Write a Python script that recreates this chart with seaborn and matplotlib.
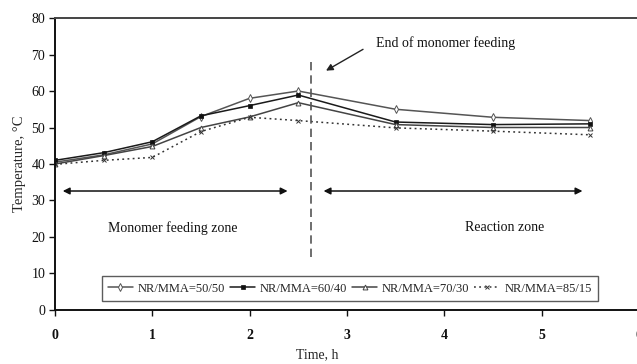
import matplotlib
matplotlib.use("Agg")
import matplotlib.pyplot as plt
import seaborn as sns
import pandas as pd

# Reactor temperature during NR/MMA graft polymerisation
time_h = [0, 0.5, 1, 1.5, 2, 2.5, 3.5, 4.5, 5.5]
temp_50_50 = [40.5, 42.5, 45.5, 53, 58, 60, 55, 52.8, 51.9]
temp_60_40 = [41, 43.1, 46.1, 53.2, 56, 58.9, 51.5, 50.8, 51]
temp_70_30 = [40, 42.3, 44.8, 50, 52.9, 56.8, 50.8, 50, 50]
temp_85_15 = [39.9, 41, 41.8, 48.9, 52.8, 51.9, 49.9, 49, 48]

series_labels = ["NR/MMA=50/50", "NR/MMA=60/40", "NR/MMA=70/30", "NR/MMA=85/15"]
x_ticks = [0, 1, 2, 3, 4, 5, 6]
y_ticks = [0, 10, 20, 30, 40, 50, 60, 70, 80]
feed_end = 2.63

sns.set_theme(style="white")
plt.rcParams["font.family"] = ["Liberation Serif", "DejaVu Serif"]

fig = plt.figure(figsize=(6.37, 3.64), dpi=100)
ax = fig.add_axes([0.0863, 0.1484, 0.9167, 0.8021])

styles = [
    dict(color="#555555", marker="d", ms=3.8, mfc="white", mec="#555555", mew=0.7, ls="-", lw=1.1),
    dict(color="#1a1a1a", marker="s", ms=3.0, mfc="#111111", mec="#111111", mew=0.5, ls="-", lw=1.1),
    dict(color="#444444", marker="^", ms=3.5, mfc="white", mec="#444444", mew=0.7, ls="-", lw=1.1),
    dict(color="#333333", marker="x", ms=3.0, mec="#333333", mew=0.7, ls=(0, (1.2, 2.2)), lw=1.1),
]
series = [temp_50_50, temp_60_40, temp_70_30, temp_85_15]

for vals, lab, st in zip(series, series_labels, styles):
    df = pd.DataFrame({"time": time_h, "temp": vals})
    sns.lineplot(data=df, x="time", y="temp", ax=ax, label=lab,
                 color=st["color"], linewidth=st["lw"], linestyle=st["ls"],
                 marker=st["marker"], markersize=st["ms"],
                 markerfacecolor=st.get("mfc", st["color"]),
                 markeredgecolor=st["mec"], markeredgewidth=st["mew"])

ax.set_xlim(0, 6)
ax.set_ylim(0, 80)
ax.set_xticks(x_ticks)
ax.set_yticks(y_ticks)

# end of feeding marker
ax.plot([feed_end, feed_end], [14.5, 68.5], color="#555555", lw=1.2,
        ls=(0, (5, 3)))
ax.annotate("", xy=(2.76, 65.2), xytext=(3.19, 71.8),
            arrowprops=dict(arrowstyle="-|>", color="#222222", lw=1.0,
                            mutation_scale=10))
ax.text(3.3, 73.2, "End of monomer feeding", fontsize=10, va="center",
        ha="left", color="#111111")

# zone arrows
arrow = dict(arrowstyle="<|-|>", color="#111111", lw=1.1, mutation_scale=10,
             shrinkA=0, shrinkB=0)
ax.annotate("", xy=(0.08, 32.6), xytext=(2.39, 32.6), arrowprops=arrow)
ax.annotate("", xy=(2.76, 32.6), xytext=(5.42, 32.6), arrowprops=arrow)
ax.text(1.21, 22.5, "Monomer feeding zone", fontsize=10, ha="center",
        va="center", color="#111111")
ax.text(4.62, 22.5, "Reaction zone", fontsize=10, ha="center",
        va="center", color="#111111")

ax.set_xlabel("Time, h", fontsize=10)
ax.set_ylabel("Temperature, \u00b0C", fontsize=10.5)
ax.xaxis.set_label_coords(0.45, -0.132)
ax.yaxis.set_label_coords(-0.05, 0.5)

for lbl in ax.get_xticklabels():
    lbl.set_fontweight("bold")
    lbl.set_fontsize(10)
for lbl in ax.get_yticklabels():
    lbl.set_fontsize(10)

ax.tick_params(axis="x", direction="out", length=4, width=1.0, pad=10,
               colors="#111111", bottom=True)
ax.tick_params(axis="y", direction="out", length=4, width=1.0, pad=3,
               colors="#111111", left=True)

for side in ["left", "bottom"]:
    ax.spines[side].set_color("#111111")
    ax.spines[side].set_linewidth(1.4)
ax.spines["top"].set_color("#444444")
ax.spines["top"].set_linewidth(1.4)
ax.spines["right"].set_visible(False)

leg = ax.legend(loc="lower left", bbox_to_anchor=(0.08, 0.031, 0.85, 0.116),
                mode="expand", ncol=4, fontsize=9, frameon=True,
                fancybox=False, borderaxespad=0, handlelength=2.0,
                handletextpad=0.4, columnspacing=0.6, borderpad=0.5)
leg.get_frame().set_edgecolor("#333333")
leg.get_frame().set_linewidth(1.0)

fig.savefig("out.png", dpi=100)
